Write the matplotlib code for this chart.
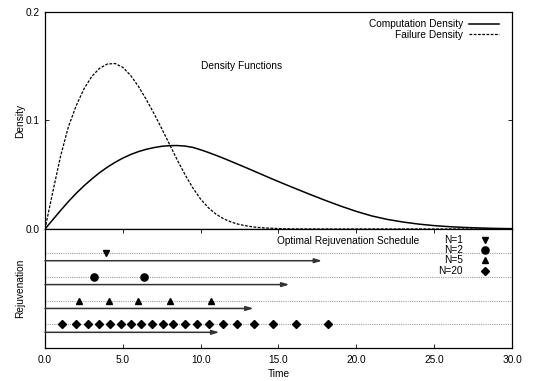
import numpy as np
import matplotlib.pyplot as plt

plt.rcParams['font.family'] = ['Liberation Sans', 'DejaVu Sans']
plt.rcParams['font.size'] = 7.3

# Density curves
time = [0.0, 0.5, 1.0, 1.5, 2.0, 2.5, 3.0, 3.5, 4.0, 4.5, 5.0, 5.5, 6.0, 6.5,
        7.0, 7.5, 8.0, 8.5, 9.0, 9.5, 10.0, 10.5, 11.0, 11.5, 12.0, 12.5, 13.0,
        13.5, 14.0, 14.5, 15.0, 15.5, 16.0, 17.0, 18.0, 19.0, 20.0, 21.0, 22.0,
        23.0, 24.0, 25.0, 26.0, 27.0, 28.0, 29.0, 30.0]
computation = [0.0, 0.0085, 0.017, 0.0252, 0.0328, 0.0397, 0.046, 0.0518,
               0.0569, 0.0614, 0.0653, 0.0686, 0.0713, 0.0734, 0.075, 0.0762,
               0.0768, 0.0769, 0.0764, 0.0752, 0.073, 0.0705, 0.0678, 0.065,
               0.062, 0.059, 0.056, 0.0529, 0.0498, 0.0467, 0.0437, 0.0407,
               0.0378, 0.032, 0.0264, 0.0211, 0.0162, 0.012, 0.0088, 0.0064,
               0.0045, 0.0031, 0.0021, 0.0014, 0.0009, 0.0005, 0.0003]
failure = [0.0, 0.034, 0.067, 0.094, 0.1135, 0.129, 0.1405, 0.148, 0.152,
           0.1525, 0.149, 0.1415, 0.1315, 0.1195, 0.1065, 0.0925, 0.078,
           0.0635, 0.050, 0.0378, 0.0275, 0.0195, 0.0135, 0.0092, 0.0062,
           0.0041, 0.0027, 0.0017, 0.0011, 0.0007, 0.0004, 0.0002, 0.0001,
           0.0, 0.0, 0.0, 0.0, 0.0, 0.0, 0.0, 0.0, 0.0, 0.0, 0.0, 0.0, 0.0, 0.0]

# Rejuvenation schedules
sched_labels = ['N=1', 'N=2', 'N=5', 'N=20']
sched_markers = ['v', 'o', '^', 'D']
sched_rows = [4, 3, 2, 1]
sched_times = [
    [3.95],
    [3.17, 6.38],
    [2.2, 4.11, 6.0, 8.05, 10.64],
    [1.07, 1.99, 2.76, 3.47, 4.17, 4.86, 5.52, 6.19, 6.87, 7.56, 8.24, 8.99,
     9.74, 10.55, 11.41, 12.35, 13.42, 14.62, 16.10, 18.16],
]
arrow_ends = [17.8, 15.7, 13.4, 11.2]

fig = plt.figure(figsize=(5.42, 3.81), dpi=100)
ax1 = fig.add_axes([0.083, 0.399, 0.8616, 0.5696])
ax2 = fig.add_axes([0.083, 0.0858, 0.8616, 0.3132])

ax1.plot(time, computation, color='black', lw=1.1, label='Computation Density')
ax1.plot(time, failure, color='black', lw=0.9, dashes=(2.2, 1.2),
         label='Failure Density')
ax1.set_xlim(0, 30)
ax1.set_ylim(0, 0.2)
ax1.set_yticks([0.0, 0.1, 0.2])
ax1.set_yticklabels(['0.0', '0.1', '0.2'])
ax1.set_xticks([])
ax1.tick_params(axis='y', direction='in', right=True, length=3, width=0.6,
                pad=4)
ax1.set_ylabel('Density')
ax1.yaxis.set_label_coords(-0.043, 0.5)
ax1.text(12.6, 0.1506, 'Density Functions', ha='center', va='center')
leg = ax1.legend(loc='upper right', bbox_to_anchor=(0.987, 1.0),
                 frameon=False, markerfirst=False,
                 handlelength=2.9, handletextpad=0.6, labelspacing=0.05,
                 borderaxespad=0.3, fontsize=7.3)
for t in leg.get_texts():
    t.set_ha('right')

# bottom panel
for row in sched_rows:
    ax2.axhline(row, color='#a0a0a0', lw=0.8, ls=(0, (1, 1)), zorder=1)
for row, end in zip(sched_rows, arrow_ends):
    ax2.annotate('', xy=(end, row - 0.33), xytext=(0, row - 0.33),
                 arrowprops=dict(arrowstyle='-|>,head_length=0.6,head_width=0.18',
                                 color='#333333', lw=1.1, shrinkA=0, shrinkB=0))
sizes = [4.5, 5.2, 4.5, 4.3]
for ts, row, m, s in zip(sched_times, sched_rows, sched_markers, sizes):
    ax2.plot(ts, [row] * len(ts), ls='none', marker=m, color='black', ms=s,
             zorder=3)

ax2.set_xlim(0, 30)
ax2.set_ylim(0, 5)
ax2.set_yticks([])
ax2.set_xticks([0, 5, 10, 15, 20, 25, 30])
ax2.set_xticklabels(['0.0', '5.0', '10.0', '15.0', '20.0', '25.0', '30.0'])
ax2.tick_params(axis='x', direction='in', top=True, length=3, width=0.6,
                pad=5)
ax2.set_xlabel('Time', labelpad=3)
ax2.set_ylabel('Rejuvenation')
ax2.yaxis.set_label_coords(-0.043, 0.5)
ax2.text(19.5, 4.5, 'Optimal Rejuvenation Schedule', ha='center',
         va='center')

# schedule key
key_y = [4.54, 4.12, 3.71, 3.26]
for lab, m, s, ky in zip(sched_labels, sched_markers, sizes, key_y):
    ax2.text(26.85, ky, lab, ha='right', va='center')
    ax2.plot([28.26], [ky], ls='none', marker=m, color='black', ms=s)

for ax in (ax1, ax2):
    for sp in ax.spines.values():
        sp.set_linewidth(0.9)

fig.savefig('out.png', dpi=100)
